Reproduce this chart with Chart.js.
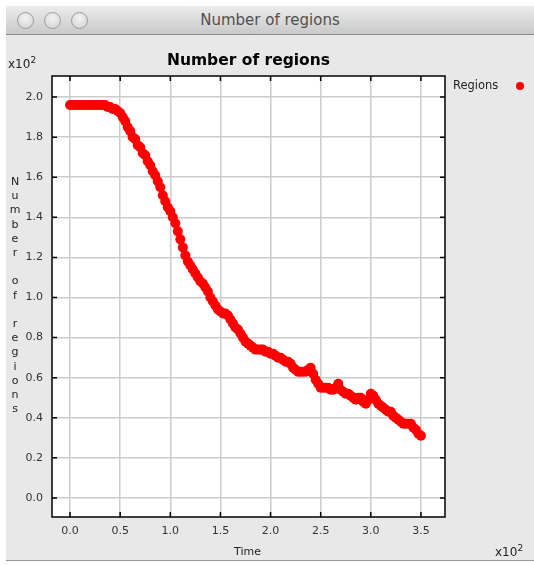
<!DOCTYPE html>
<html>
<head>
<meta charset="utf-8">
<script src="https://cdn.jsdelivr.net/npm/chart.js@4.4.1/dist/chart.umd.min.js"></script>
<style>
  html, body { margin: 0; padding: 0; }
  body { width: 534px; height: 565px; position: relative; overflow: hidden; background: #fff; font-family: "DejaVu Sans", sans-serif; }
  #win { position: absolute; left: 6px; top: 6px; width: 528px; height: 554px; background: #e8e8e8; border-bottom: 1px solid #9a9a9a; }
  #titlebar { position: absolute; left: 0; top: 0; width: 100%; height: 28px;
    background: linear-gradient(#ececec, #c9c9c9); border-bottom: 1px solid #8c8c8c;
    text-align: center; line-height: 28px; font-size: 15px; color: #505050; }
  .light { position: absolute; top: 6px; width: 15px; height: 15px; border-radius: 50%;
    border: 1px solid #9c9c9c; background: radial-gradient(circle at 50% 35%, #f4f4f4, #cfcfcf); }
  #chartWrap { position: absolute; left: 0; top: 0; width: 534px; height: 565px; }
  .txt { position: absolute; color: #222; font-size: 12px; white-space: nowrap; }
  #title { position: absolute; left: 52px; width: 393px; top: 51px; text-align: center; font-size: 15.5px; font-weight: bold; color: #000; }
  #ylabel { position: absolute; left: 9px; top: 175px; width: 12px; text-align: center; font-size: 11px; line-height: 14.2px; color: #222; }
</style>
</head>
<body>
<div id="win">
  <div id="titlebar">Number of regions</div>
  <div class="light" style="left:11px"></div>
  <div class="light" style="left:38px"></div>
  <div class="light" style="left:65px"></div>
</div>
<div id="chartWrap"><canvas id="chart" width="534" height="565"></canvas></div>
<div id="title">Number of regions</div>
<div class="txt" style="left:8px; top:55px;">x10<sup style="font-size:9px">2</sup></div>
<div class="txt" style="left:495px; top:543px;">x10<sup style="font-size:9px">2</sup></div>
<div class="txt" style="left:234px; top:545px; font-size:11px;">Time</div>
<div class="txt" style="left:453px; top:78px; font-size:11.5px;">Regions</div>
<div style="position:absolute; left:516px; top:82px; width:8px; height:8px; border-radius:50%; background:#ff0000;"></div>
<div id="ylabel"></div>
<script>
const times = [
  0, 2.5, 5, 7.5, 10, 12.5, 15, 17.5, 20, 22.5, 25, 27.5, 30, 32.5, 35, 37.5, 40, 42.5, 45, 47.5,
  50, 52.5, 55, 57.5, 60, 62.5, 65, 67.5, 70, 72.5, 75, 77.5, 80, 82.5, 85, 87.5, 90, 92.5, 95, 97.5,
  100, 102.5, 105, 107.5, 110, 112.5, 115, 117.5, 120, 122.5, 125, 127.5, 130, 132.5, 135, 137.5, 140, 142.5, 145, 147.5,
  150, 152.5, 155, 157.5, 160, 162.5, 165, 167.5, 170, 172.5, 175, 177.5, 180, 182.5, 185, 187.5, 190, 192.5, 195, 197.5,
  200, 202.5, 205, 207.5, 210, 212.5, 215, 217.5, 220, 222.5, 225, 227.5, 230, 232.5, 235, 237.5, 240, 242.5, 245, 247.5,
  250, 252.5, 255, 257.5, 260, 262.5, 265, 267.5, 270, 272.5, 275, 277.5, 280, 282.5, 285, 287.5, 290, 292.5, 295, 297.5,
  300, 302.5, 305, 307.5, 310, 312.5, 315, 317.5, 320, 322.5, 325, 327.5, 330, 332.5, 335, 337.5, 340, 342.5, 345, 347.5,
  350];
const regions = [
  196, 196, 196, 196, 196, 196, 196, 196, 196, 196, 196, 196, 196, 196, 196, 195, 195, 194, 194, 193,
  192, 190, 188, 185, 183, 180, 179, 176, 175, 172, 171, 168, 166, 163, 161, 158, 155, 151, 148, 145,
  143, 140, 137, 133, 129, 125, 121, 118, 116, 114, 112, 110, 108, 107, 105, 103, 100, 98, 96, 94,
  93, 92, 92, 91, 89, 87, 85, 84, 82, 80, 78, 77, 76, 75, 74, 74, 74, 74, 73, 73,
  72, 72, 71, 70, 70, 69, 68, 68, 67, 65, 64, 63, 63, 63, 63, 64, 65, 62, 59, 57,
  55, 55, 55, 55, 54, 54, 55, 57, 54, 53, 52, 52, 51, 50, 49, 50, 50, 48, 47, 49,
  52, 51, 49, 47, 46, 45, 44, 43, 43, 41, 40, 39, 38, 37, 37, 37, 37, 35, 34, 32,
  31];
const xTicks = [0, 50, 100, 150, 200, 250, 300, 350];
const yTicks = [0, 20, 40, 60, 80, 100, 120, 140, 160, 180, 200];

// vertical stacked y label
document.getElementById('ylabel').innerHTML =
  'Number of regions'.split('').map(c => c === ' ' ? '&nbsp;' : c).join('<br>');

const tickFont = { family: 'DejaVu Sans', size: 11 };

// white plot area
const plotBg = {
  id: 'plotBg',
  beforeDraw(chart) {
    const { ctx, chartArea: a } = chart;
    ctx.save();
    ctx.fillStyle = '#ffffff';
    ctx.fillRect(a.left, a.top, a.right - a.left, a.bottom - a.top);
    ctx.restore();
  }
};

// short inward tick marks on all four sides
const innerTicks = {
  id: 'innerTicks',
  afterDraw(chart) {
    const { ctx, chartArea: a, scales } = chart;
    ctx.save();
    ctx.strokeStyle = '#000';
    ctx.lineWidth = 1.5;
    ctx.beginPath();
    scales.x.ticks.forEach(t => {
      const px = scales.x.getPixelForValue(t.value);
      ctx.moveTo(px, a.bottom); ctx.lineTo(px, a.bottom - 5);
      ctx.moveTo(px, a.top); ctx.lineTo(px, a.top + 5);
    });
    scales.y.ticks.forEach(t => {
      const py = scales.y.getPixelForValue(t.value);
      ctx.moveTo(a.left, py); ctx.lineTo(a.left + 5, py);
      ctx.moveTo(a.right, py); ctx.lineTo(a.right - 5, py);
    });
    ctx.stroke();
    ctx.strokeRect(a.left, a.top, a.right - a.left, a.bottom - a.top);
    ctx.restore();
  }
};

new Chart(document.getElementById('chart'), {
  type: 'scatter',
  data: {
    datasets: [{
      label: 'Regions',
      data: times.map((t, i) => ({ x: t, y: regions[i] })),
      backgroundColor: '#ff0000',
      borderColor: '#ff0000',
      pointRadius: 5,
      pointBorderWidth: 0,
      pointHoverRadius: 5
    }]
  },
  options: {
    responsive: false,
    animation: false,
    layout: { padding: { left: 0, top: 76, right: 89, bottom: 0 } },
    plugins: { legend: { display: false }, tooltip: { enabled: false } },
    scales: {
      x: {
        type: 'linear', min: -18, max: 374,
        afterBuildTicks: s => { s.ticks = xTicks.map(v => ({ value: v })); },
        afterFit: s => { s.height = 48; },
        grid: { color: '#cccccc', lineWidth: 1.5, drawTicks: false },
        border: { display: false },
        ticks: { font: tickFont, color: '#333', padding: 8, maxRotation: 0,
          callback: v => (v / 100).toFixed(1) }
      },
      y: {
        type: 'linear', min: -9.5, max: 210.5,
        afterBuildTicks: s => { s.ticks = yTicks.map(v => ({ value: v })); },
        afterFit: s => { s.width = 52; },
        grid: { color: '#cccccc', lineWidth: 1.5, drawTicks: false },
        border: { display: false },
        ticks: { font: tickFont, color: '#333', padding: 9,
          callback: v => (v / 100).toFixed(1) }
      }
    }
  },
  plugins: [plotBg, innerTicks]
});
</script>
</body>
</html>
